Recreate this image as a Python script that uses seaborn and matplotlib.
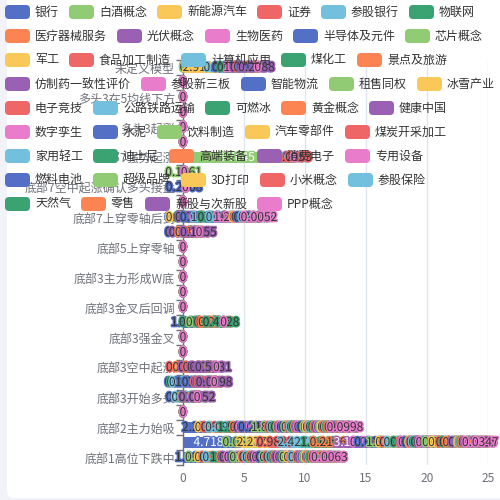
import matplotlib
matplotlib.use("Agg")
import matplotlib.pyplot as plt
import matplotlib.patheffects as pe
from matplotlib.patches import FancyBboxPatch
import numpy as np
import pandas as pd
import seaborn as sns

categories = [
    "底部1高位下跌中", "底部1缩量企稳", "底部2主力始吸", "底部2二次探底",
    "底部3开始多头", "底部3回踩确认", "底部3空中起涨", "底部3放量突破",
    "底部3强金叉", "底部3均线粘合", "底部3金叉后回调", "底部3平台整理",
    "底部3主力形成W底", "底部4底背离", "底部5上穿零轴", "底部5回踩零轴",
    "底部7上穿零轴后到", "底部7二次金叉", "底部7空中起涨确认多头接盘", "底部7缩量回调",
    "底部7强势起涨", "多头1主升浪", "多头3起涨", "多头3回踩确认",
    "多头3在5均线下方", "多头5高位震荡", "未定义模型",
]

series_names = [
    "银行", "白酒概念", "新能源汽车", "证券", "参股银行", "物联网",
    "医疗器械服务", "光伏概念", "生物医药", "半导体及元件", "芯片概念",
    "军工", "食品加工制造", "计算机应用", "煤化工", "景点及旅游",
    "仿制药一致性评价", "参股新三板", "智能物流", "租售同权", "冰雪产业",
    "电子竞技", "公路铁路运输", "可燃冰", "黄金概念", "健康中国",
    "数字孪生", "水泥", "饮料制造", "汽车零部件", "煤炭开采加工",
    "家用轻工", "迪士尼", "高端装备", "消费电子", "专用设备",
    "燃料电池", "超级品牌", "3D打印", "小米概念", "参股保险",
    "天然气", "零售", "新股与次新股", "PPP概念",
]

palette = ["#5470c6", "#91cc75", "#fac858", "#ee6666", "#73c0de",
           "#3ba272", "#fc8452", "#9a60b4", "#ea7ccc"]

# one list per category that has non-zero values (45 series each)
row_0 = [1.6634, 0.0215, 0.9490, 0.3862, 0.1528, 1.0873,
         0.0456, 0.3021, 0.5037, 0.0832, 0.2145,
         0.6310, 0.0927, 0.4403, 0.1286, 0.0385,
         0.3562, 0.0514, 0.5826, 0.0742, 0.2310,
         0.0638, 0.4217, 0.0951, 0.1806, 0.0273,
         0.3654, 0.0881, 0.2093, 0.5172, 0.0435,
         0.1168, 0.3380, 0.0527, 0.2746, 0.0719,
         0.1532, 0.0364, 0.2287, 0.0806, 0.1954,
         0.0412, 0.2631, 0.1078, 0.0063]
row_1 = [4.7187, 0.0512, 2.2779, 0.9838, 2.4271, 1.3145,
         0.2136, 3.1540, 0.0921, 0.6124, 1.3307,
         0.1875, 0.4417, 0.2658, 0.8351, 0.1203,
         0.0786, 0.0542, 0.5313, 0.0216, 0.0437,
         0.0652, 0.3184, 0.0291, 0.1120, 0.2765,
         0.0318, 0.4820, 0.0734, 0.9021, 0.3358,
         0.0960, 0.0418, 0.5207, 0.3946, 0.1580,
         0.0623, 0.0877, 0.0365, 0.1147, 0.0519,
         0.0284, 0.1732, 0.2055, 0.0347]
row_2 = [2.2740, 0, 0.3812, 0.6135, 0.0948, 1.9058,
         0.1124, 0.4951, 0.0367, 0.2189, 1.8917,
         0.0530, 0.2603, 0.1372, 0.4089, 0.0614,
         0.1935, 0.0281, 0.3476, 0.0725, 0.1540,
         0.2218, 0.0493, 0.3061, 0.0857, 0.1609,
         0.0342, 0.4738, 0.0916, 0.2374, 0.1183,
         0.0567, 0.3295, 0.0721, 0.1458, 0.2036,
         0.0389, 0.1217, 0.0645, 0.2872, 0.0931,
         0.0478, 0.1693, 0.0810, 0.0998]
row_4 = [0.2005, 0, 0, 0, 0.7236, 0,
         0, 0.1050, 0, 0, 0,
         0, 0, 0, 0.0417, 0,
         0, 0, 0, 0, 0,
         0, 0, 0, 0, 0,
         0, 0, 0, 0.0862, 0,
         0, 0, 0, 0, 0,
         0, 0, 0, 0, 0,
         0, 0, 0.0052, 0]
row_5 = [0.0038, 0, 0, 0, 0, 0.3142,
         0, 0, 0, 0.0310, 0,
         0, 0, 0.0126, 0, 0,
         0, 0, 1.0033, 0, 0,
         0, 0.0275, 0, 0, 0,
         0, 0.0301, 0, 0, 0.8620,
         0, 0, 0, 0.0187, 0,
         0, 0, 0, 0.2509, 0,
         0, 0, 0.0098, 0]
row_6 = [0, 0, 0, 0.2307, 0, 0.1000,
         0.6214, 0.3108, 0, 0, 0,
         0, 0.4126, 0, 0, 0,
         0.3302, 0, 0, 0, 0,
         0, 0, 0, 0, 0.0812,
         0, 0, 0, 0, 0,
         0, 0, 0, 0.1540, 0,
         0, 0, 0, 0, 0,
         0, 0, 0.5031, 0]
row_9 = [1.0213, 0, 0, 0, 0, 0.3054,
         0, 0, 0, 0, 0.8376,
         0, 0, 0, 0.4021, 0,
         0, 0, 0, 0, 0,
         0.0264, 0, 0, 0, 0,
         0, 0, 0, 0, 0,
         0, 0, 0.2941, 0, 0,
         0, 0, 0, 0, 0,
         0.4428, 0, 0, 0]
row_15 = [0.0312, 0, 0, 0, 0, 0,
          0, 0.6021, 0, 0, 0,
          0, 0, 0, 0, 0,
          0, 0, 0.0470, 0, 0,
          0, 0, 0, 0.3185, 0,
          0, 0, 0, 0, 0,
          0, 0, 0, 0, 0,
          0, 0, 0, 0.2150, 0,
          0, 0, 0.1055, 0]
row_16 = [0.0726, 0, 0.0395, 0, 0, 0.7130,
          0, 0.0468, 0, 0.7412, 0,
          0, 0, 1.0362, 0.0983, 0,
          0, 0, 0.6140, 0, 0,
          0, 0.0237, 0, 0, 0,
          1.2063, 0, 0, 0.8310, 0,
          0, 0, 0.0512, 0, 0,
          0.3381, 0, 0, 0, 0.4207,
          0, 0, 0, 0.0052]
row_18 = [0.2008, 0, 0, 0, 0, 0,
          0, 0, 0, 0, 0,
          0, 0, 0, 0, 0,
          0, 0, 0, 0, 0,
          0, 0, 0, 0, 0,
          0, 0, 0, 0, 0,
          0, 0, 0, 0, 0,
          0, 0, 0, 0, 0,
          0, 0, 0, 0]
row_19 = [0, 0.1061, 0, 0, 0, 0,
          0, 0, 0, 0, 0,
          0, 0, 0, 0, 0,
          0, 0, 0, 0, 0,
          0, 0, 0, 0, 0,
          0, 0, 0, 0, 0,
          0, 0, 0, 0, 0,
          0, 0, 0, 0, 0,
          0, 0, 0, 0]
row_20 = [0, 8.7645, 0, 0, 0, 0,
          0, 0, 0, 0, 0,
          0, 0, 0.0412, 0, 0,
          0, 0, 0, 0, 0,
          0, 0, 0, 0, 0,
          0, 0, 0, 0, 0,
          0, 0, 0, 0.2316, 0,
          0, 0, 0, 0.0853, 0,
          0, 0, 0, 0]
row_26 = [0, 0, 2.9116, 0, 0.5361, 0,
          0, 0, 0, 0.8254, 0,
          0, 0, 0, 0.0367, 0,
          0, 1.0153, 0, 0, 0,
          0, 0, 0, 0, 0.0745,
          0, 0, 0, 0, 0.5027,
          0, 0, 0, 0, 0,
          0.0215, 0, 0, 0, 0,
          0, 0, 0.2088, 0]

filled_rows = {0: row_0, 1: row_1, 2: row_2, 4: row_4, 5: row_5, 6: row_6,
               9: row_9, 15: row_15, 16: row_16, 18: row_18, 19: row_19,
               20: row_20, 26: row_26}

values = np.zeros((len(categories), len(series_names)))
for i, r in filled_rows.items():
    values[i] = r

sns.set_theme(style="white")
plt.rcParams["font.family"] = ["Noto Sans CJK SC", "DejaVu Sans"]
FS = 8.64  # 12px
AXIS_C = "#6e7079"

fig = plt.figure(figsize=(5, 5), dpi=100)
fig.patch.set_facecolor("#f2f3f8")
card = FancyBboxPatch((7 / 500, 2 / 500), 1.2, 1.2,
                      boxstyle="round,pad=0,rounding_size=0.016",
                      transform=fig.transFigure, facecolor="white",
                      edgecolor="none", zorder=-1)
fig.add_artist(card)

ax = fig.add_axes([183 / 500, 35 / 500, 305 / 500, 405 / 500])
ax.set_facecolor("none")

cum = np.zeros(len(categories))
for j, name in enumerate(series_names):
    df = pd.DataFrame({"cat": categories, "val": values[:, j]})
    sns.barplot(data=df, x="val", y="cat", order=categories, orient="h",
                color=palette[j % 9], saturation=1, errorbar=None, width=0.75,
                left=cum.copy(), linewidth=0, ax=ax)
    cum += values[:, j]

# labels inside the bars
cum = np.zeros(len(categories))
for j, name in enumerate(series_names):
    col = palette[j % 9]
    for i in range(len(categories)):
        v = values[i, j]
        s = f"{v:.4f}".rstrip("0").rstrip(".")
        fits = v * 12.2 > 7 * len(s)
        ax.text(cum[i] + v / 2, i, s, ha="center", va="center", fontsize=FS,
                color="white" if fits else "#333333", zorder=5, clip_on=False,
                path_effects=[pe.withStroke(linewidth=2, foreground=col)])
    cum += values[:, j]

ax.set_ylim(-0.5, len(categories) - 0.5)
ax.set_xlim(0, 25)
ax.set_xticks([0, 5, 10, 15, 20, 25])
ax.set_yticks(range(len(categories)))
ax.set_yticklabels([c if i % 2 == 0 else "" for i, c in enumerate(categories)])
ax.set_yticks(np.arange(-0.5, len(categories), 1), minor=True)
ax.tick_params(axis="y", which="major", length=0, pad=5.8, labelsize=FS, labelcolor=AXIS_C)
ax.tick_params(axis="y", which="minor", left=True, length=5, width=1, color=AXIS_C, direction="out")
ax.tick_params(axis="x", length=0, pad=5, labelsize=FS, labelcolor=AXIS_C)
ax.grid(axis="x", color="#e0e6f1", linewidth=1)
ax.grid(axis="y", visible=False)
ax.set_axisbelow(True)
ax.set_xlabel("")
ax.set_ylabel("")
for side in ["top", "right", "bottom"]:
    ax.spines[side].set_visible(False)
ax.spines["left"].set_color(AXIS_C)
ax.spines["left"].set_linewidth(1)
ax.spines["left"].set_zorder(3)

# echarts-like flowing legend on top
renderer = fig.canvas.get_renderer()
items = []
for j, name in enumerate(series_names):
    t = fig.text(0, 0, name, fontsize=FS, color="#333333", ha="left", va="center", zorder=10)
    items.append((j, t, t.get_window_extent(renderer).width))

rows = [[]]
x = 0
for j, t, w in items:
    iw = 30 + w
    if rows[-1] and x + iw > 490:
        rows.append([])
        x = 0
    rows[-1].append((j, x, t))
    x += iw + 10
row_widths = []
for row in rows:
    j, x0, t = row[-1]
    row_widths.append(x0 + 30 + t.get_window_extent(renderer).width)
left = (500 - max(row_widths)) / 2

for r, row in enumerate(rows):
    yc = 12 + 24 * r
    for j, x0, t in row:
        px = left + x0
        fig.add_artist(FancyBboxPatch((px / 500, (500 - yc - 7) / 500), 25 / 500, 14 / 500,
                                      boxstyle="round,pad=0,rounding_size=0.008",
                                      transform=fig.transFigure, facecolor=palette[j % 9],
                                      edgecolor="none", zorder=9))
        t.set_position(((px + 30) / 500, (500 - yc) / 500))

fig.savefig("out.png", dpi=100)
